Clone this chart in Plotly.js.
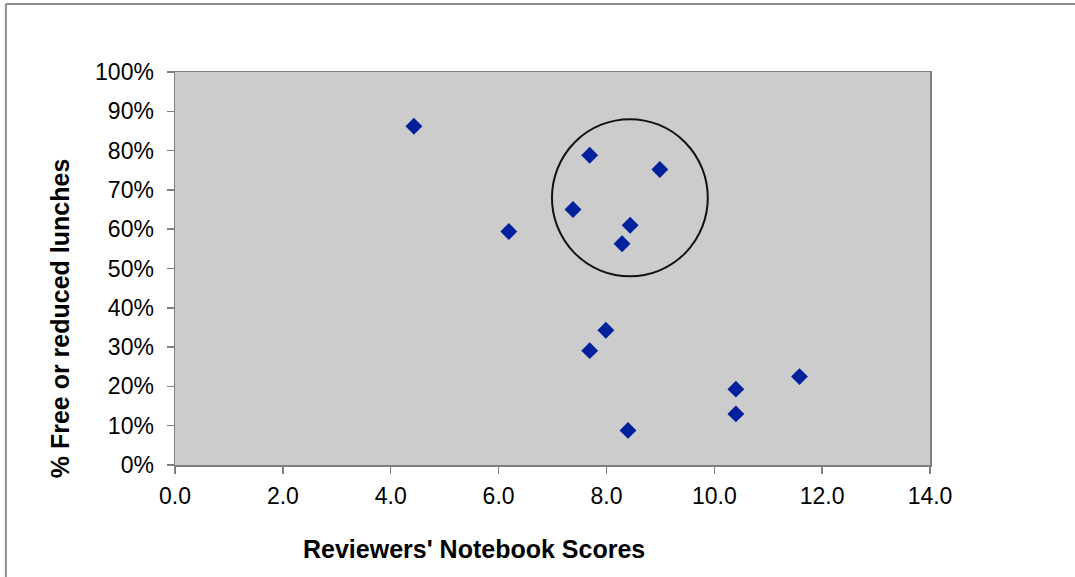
<!DOCTYPE html>
<html>
<head>
<meta charset="utf-8">
<script src="https://cdn.plot.ly/plotly-3.0.1.min.js"></script>
<style>html,body{margin:0;padding:0;background:#fff;}#chart{width:1075px;height:577px;}</style>
</head>
<body>
<div id="chart"></div>
<script>
// Reviewers' notebook scores vs. % free or reduced lunches
const notebookScores = [4.43, 6.19, 7.38, 7.69, 8.29, 8.44, 8.99, 7.99, 7.69, 8.40, 10.40, 10.40, 11.58];
const freeLunchPct   = [0.862, 0.594, 0.650, 0.788, 0.563, 0.610, 0.752, 0.343, 0.291, 0.088, 0.193, 0.130, 0.225];
const xTicks = [0, 2, 4, 6, 8, 10, 12, 14];
const yTicks = [0, 0.1, 0.2, 0.3, 0.4, 0.5, 0.6, 0.7, 0.8, 0.9, 1.0];
const xTitle = "Reviewers' Notebook Scores";
const yTitle = '% Free or reduced lunches';
// highlighted cluster (ellipse bounds in data units)
const clusterX = [6.99, 9.88];
const clusterY = [0.48, 0.88];

const trace = {
  x: notebookScores,
  y: freeLunchPct,
  mode: 'markers',
  type: 'scatter',
  marker: {symbol: 'diamond', size: 13, color: '#00219c'},
  hoverinfo: 'x+y'
};

const fam = 'Liberation Sans, Arial, sans-serif';
const tickFont = {family: fam, size: 23, color: '#000'};
const titleFont = {family: fam, size: 25, color: '#000'};
const layout = {
  width: 1075, height: 577,
  margin: {l: 175, r: 145, t: 72, b: 112},
  paper_bgcolor: '#ffffff',
  plot_bgcolor: '#cccccc',
  showlegend: false,
  font: tickFont,
  xaxis: {
    range: [0, 14], tickvals: xTicks, ticktext: xTicks.map(v => v.toFixed(1)),
    showgrid: false, zeroline: false,
    showline: true, mirror: true, linecolor: '#7f7f7f', linewidth: 1.5,
    ticks: 'outside', ticklen: 7, tickcolor: '#7f7f7f', tickwidth: 1.5,
    ticklabelstandoff: 3,
    tickfont: tickFont
  },
  yaxis: {
    range: [0, 1], tickvals: yTicks, tickformat: '.0%',
    showgrid: false, zeroline: false,
    showline: true, mirror: true, linecolor: '#7f7f7f', linewidth: 1.5,
    ticks: 'outside', ticklen: 7, tickcolor: '#7f7f7f', tickwidth: 1.5,
    ticklabelstandoff: 8,
    tickfont: tickFont
  },
  annotations: [
    {text: '<b>' + xTitle + '</b>', xref: 'paper', yref: 'paper', x: 0.396, y: -0.214,
     xanchor: 'center', yanchor: 'middle', showarrow: false, font: titleFont},
    {text: '<b>' + yTitle + '</b>', xref: 'paper', yref: 'paper', x: -0.152, y: 0.374,
     xanchor: 'center', yanchor: 'middle', textangle: -90, showarrow: false, font: titleFont}
  ],
  shapes: [
    {type: 'circle', xref: 'x', yref: 'y', x0: clusterX[0], x1: clusterX[1], y0: clusterY[0], y1: clusterY[1],
     line: {color: '#111', width: 2}, fillcolor: 'rgba(0,0,0,0)'},
    {type: 'line', xref: 'paper', yref: 'paper', x0: -0.224, x1: -0.224, y0: -0.32, y1: 1.173,
     line: {color: '#8c8c8c', width: 2}},
    {type: 'line', xref: 'paper', yref: 'paper', x0: -0.224, x1: 1.2, y0: 1.173, y1: 1.173,
     line: {color: '#8c8c8c', width: 2}}
  ]
};

Plotly.newPlot('chart', [trace], layout, {displayModeBar: false, staticPlot: true});
</script>
</body>
</html>
